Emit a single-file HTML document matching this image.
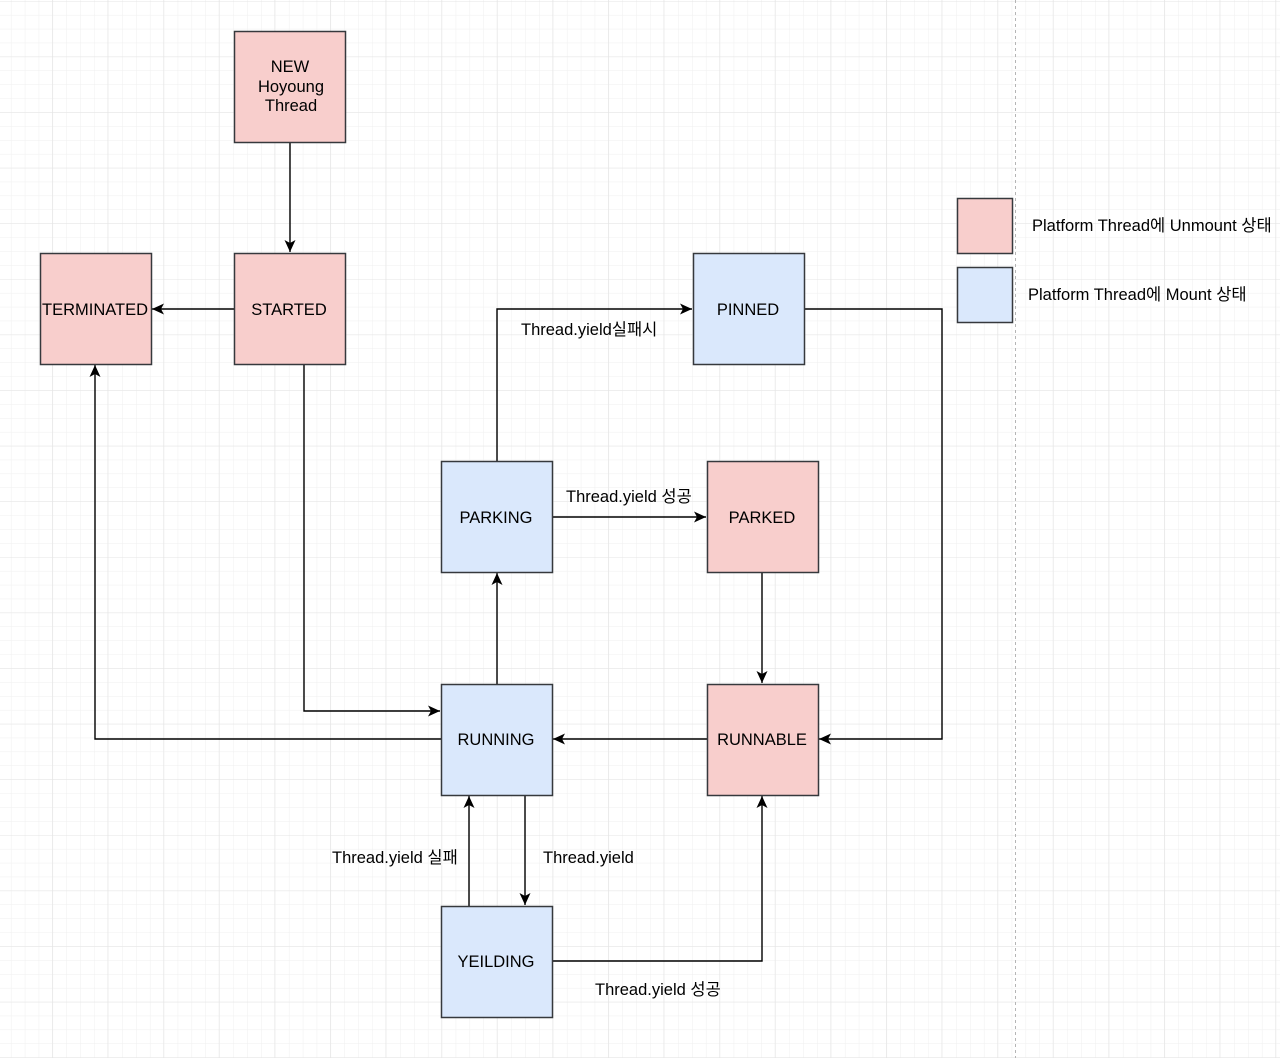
<!DOCTYPE html>
<html><head><meta charset="utf-8"><style>
html,body{margin:0;padding:0;background:#fff;}
svg{display:block;}
text{font-family:"Liberation Sans","Noto Sans CJK KR",sans-serif;font-size:16.5px;fill:#000;}
</style></head><body>
<svg width="1280" height="1058" viewBox="0 0 1280 1058" xmlns="http://www.w3.org/2000/svg">
<defs>
<pattern id="minor" x="-3" y="1" width="13.9" height="13.9" patternUnits="userSpaceOnUse">
<path d="M0 0V13.9M0 0H13.9" stroke="#efefef" stroke-width="1" fill="none"/>
</pattern>
<pattern id="major" x="52" y="1" width="55.6" height="55.6" patternUnits="userSpaceOnUse">
<path d="M0 0V55.6M0 0H55.6" stroke="#e4e4e4" stroke-width="1" fill="none"/>
</pattern>
<marker id="a" markerWidth="13" markerHeight="12" refX="12" refY="6" orient="auto" markerUnits="userSpaceOnUse">
<path d="M0 0.5L12 6L0 11.5L3 6Z" fill="#000"/>
</marker>
</defs>
<rect width="1280" height="1058" fill="#fff"/>
<rect width="1280" height="1058" fill="url(#minor)"/>
<rect width="1280" height="1058" fill="url(#major)"/>
<line x1="1015.5" y1="0" x2="1015.5" y2="1058" stroke="#b5b5b5" stroke-dasharray="3 3"/>

<g stroke="#000" stroke-width="1.4" fill="none" marker-end="url(#a)">
<path d="M290 142V252"/>
<path d="M234 309H152"/>
<path d="M304 364V711H440"/>
<path d="M441 739H95V365"/>
<path d="M497 684V573"/>
<path d="M497 461V309H692"/>
<path d="M552 517H706"/>
<path d="M804 309H942V739H819"/>
<path d="M762 572V683"/>
<path d="M707 739H553"/>
<path d="M525 795V905"/>
<path d="M469 906V796"/>
<path d="M552 961H762V796"/>
</g>

<g stroke="#36393d" stroke-width="1.5">
<rect x="234.5" y="31.5" width="111" height="111" fill="#f8cecc"/>
<rect x="234.5" y="253.5" width="111" height="111" fill="#f8cecc"/>
<rect x="40.5" y="253.5" width="111" height="111" fill="#f8cecc"/>
<rect x="693.5" y="253.5" width="111" height="111" fill="#dae8fc"/>
<rect x="441.5" y="461.5" width="111" height="111" fill="#dae8fc"/>
<rect x="707.5" y="461.5" width="111" height="111" fill="#f8cecc"/>
<rect x="441.5" y="684.5" width="111" height="111" fill="#dae8fc"/>
<rect x="707.5" y="684.5" width="111" height="111" fill="#f8cecc"/>
<rect x="441.5" y="906.5" width="111" height="111" fill="#dae8fc"/>
<rect x="957.5" y="198.5" width="55" height="55" fill="#f8cecc"/>
<rect x="957.5" y="267.5" width="55" height="55" fill="#dae8fc"/>
</g>

<g text-anchor="middle">
<text x="290" y="72">NEW</text>
<text x="291" y="92">Hoyoung</text>
<text x="291" y="111">Thread</text>
<text x="289" y="315">STARTED</text>
<text x="95" y="315">TERMINATED</text>
<text x="748" y="315">PINNED</text>
<text x="496" y="523">PARKING</text>
<text x="762" y="523">PARKED</text>
<text x="496" y="745">RUNNING</text>
<text x="762" y="745">RUNNABLE</text>
<text x="496" y="967">YEILDING</text>
</g>
<text x="521" y="335">Thread.yield실패시</text>
<text x="566" y="502">Thread.yield 성공</text>
<text x="543" y="863">Thread.yield</text>
<text x="332" y="863">Thread.yield 실패</text>
<text x="595" y="995">Thread.yield 성공</text>
<text x="1032" y="231">Platform Thread에 Unmount 상태</text>
<text x="1028" y="300">Platform Thread에 Mount 상태</text>
</svg>
</body></html>
